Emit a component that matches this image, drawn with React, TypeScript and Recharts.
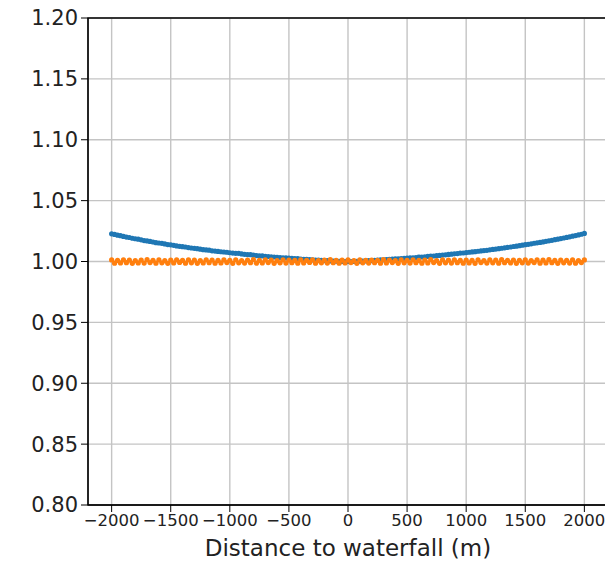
import { ScatterChart, Scatter, XAxis, YAxis, CartesianGrid, ReferenceArea } from 'recharts';

// distance along the profile (m), every 25 m
const distances = [
  -2000, -1975, -1950, -1925, -1900, -1875, -1850, -1825, -1800, -1775,
  -1750, -1725, -1700, -1675, -1650, -1625, -1600, -1575, -1550, -1525,
  -1500, -1475, -1450, -1425, -1400, -1375, -1350, -1325, -1300, -1275,
  -1250, -1225, -1200, -1175, -1150, -1125, -1100, -1075, -1050, -1025,
  -1000, -975, -950, -925, -900, -875, -850, -825, -800, -775,
  -750, -725, -700, -675, -650, -625, -600, -575, -550, -525,
  -500, -475, -450, -425, -400, -375, -350, -325, -300, -275,
  -250, -225, -200, -175, -150, -125, -100, -75, -50, -25,
  0, 25, 50, 75, 100, 125, 150, 175, 200, 225,
  250, 275, 300, 325, 350, 375, 400, 425, 450, 475,
  500, 525, 550, 575, 600, 625, 650, 675, 700, 725,
  750, 775, 800, 825, 850, 875, 900, 925, 950, 975,
  1000, 1025, 1050, 1075, 1100, 1125, 1150, 1175, 1200, 1225,
  1250, 1275, 1300, 1325, 1350, 1375, 1400, 1425, 1450, 1475,
  1500, 1525, 1550, 1575, 1600, 1625, 1650, 1675, 1700, 1725,
  1750, 1775, 1800, 1825, 1850, 1875, 1900, 1925, 1950, 1975,
  2000,
];

// blue series
const ratioA = [
  1.0227, 1.0222, 1.0216, 1.0212, 1.0206, 1.0201, 1.0197, 1.0191, 1.0187, 1.0183,
  1.0178, 1.0172, 1.0169, 1.0165, 1.016, 1.0155, 1.0152, 1.0149, 1.0144, 1.0139,
  1.0137, 1.0133, 1.0128, 1.0125, 1.0122, 1.0119, 1.0114, 1.0111, 1.0108, 1.0105,
  1.0101, 1.0097, 1.0095, 1.0093, 1.0088, 1.0086, 1.0083, 1.008, 1.0078, 1.0076,
  1.0072, 1.0069, 1.0067, 1.0066, 1.0062, 1.0059, 1.0057, 1.0056, 1.0052, 1.0049,
  1.0047, 1.0046, 1.0043, 1.0041, 1.0038, 1.0037, 1.0035, 1.0032, 1.0031, 1.0029,
  1.0027, 1.0025, 1.0024, 1.0023, 1.002, 1.0018, 1.0017, 1.0016, 1.0014, 1.0012,
  1.0011, 1.001, 1.0008, 1.0007, 1.0005, 1.0004, 1.0003, 1.0002, 1.0001, 1.0,
  1.0, 1.0, 1.0001, 1.0002, 1.0003, 1.0004, 1.0005, 1.0007, 1.0008, 1.001,
  1.0011, 1.0013, 1.0014, 1.0016, 1.0017, 1.0019, 1.0021, 1.0022, 1.0024, 1.0026,
  1.0027, 1.0029, 1.0031, 1.0033, 1.0036, 1.0037, 1.0039, 1.0042, 1.0044, 1.0045,
  1.0048, 1.005, 1.0053, 1.0055, 1.0058, 1.006, 1.0063, 1.0065, 1.0068, 1.007,
  1.0073, 1.0076, 1.0079, 1.0081, 1.0084, 1.0087, 1.009, 1.0092, 1.0096, 1.0099,
  1.0102, 1.0105, 1.0109, 1.0112, 1.0116, 1.0119, 1.0123, 1.0126, 1.013, 1.0134,
  1.0138, 1.0141, 1.0145, 1.015, 1.0153, 1.0157, 1.0161, 1.0166, 1.017, 1.0174,
  1.0179, 1.0183, 1.0188, 1.0193, 1.0198, 1.0203, 1.0208, 1.0213, 1.0218, 1.0224,
  1.0231,
];

// orange series
const ratioB = [
  1.0013, 0.9986, 1.0009, 0.9988, 1.0014, 0.999, 1.0011, 0.9985, 1.0008, 0.9988,
  1.0012, 0.9987, 1.0015, 0.9991, 1.001, 0.9986, 1.0013, 0.9989, 1.0007, 0.9985,
  1.0012, 0.9988, 1.0014, 0.9992, 1.0009, 0.9986, 1.0013, 0.9989, 1.0011, 0.9985,
  1.0008, 0.9988, 1.0014, 0.999, 1.0012, 0.9986, 1.0009, 0.9988, 1.0013, 0.9991,
  1.001, 0.9985, 1.0014, 0.9989, 1.0008, 0.9987, 1.0012, 0.999, 1.0015, 0.9986,
  1.0009, 0.9988, 1.0013, 0.9991, 1.0011, 0.9985, 1.0008, 0.9989, 1.0014, 0.9987,
  1.0012, 0.999, 1.0009, 0.9986, 1.0013, 0.9988, 1.001, 0.9992, 1.0014, 0.9986,
  1.0008, 0.9989, 1.0012, 0.9987, 1.0015, 0.999, 1.0009, 0.9986, 1.0011, 0.9988,
  1.0013, 0.9991, 1.0008, 0.9985, 1.0014, 0.9989, 1.001, 0.9987, 1.0012, 0.999,
  1.0009, 0.9986, 1.0016, 0.9988, 1.0011, 0.9991, 1.0008, 0.9985, 1.0013, 0.9989,
  1.001, 0.9987, 1.0014, 0.999, 1.0009, 0.9986, 1.0012, 0.9988, 1.0015, 0.9991,
  1.0008, 0.9985, 1.0013, 0.9989, 1.0011, 0.9987, 1.0014, 0.999, 1.0009, 0.9986,
  1.0012, 0.9988, 1.001, 0.9985, 1.0014, 0.9991, 1.0008, 0.9987, 1.0013, 0.9989,
  1.0011, 0.9986, 1.0015, 0.999, 1.0009, 0.9988, 1.0012, 0.9985, 1.001, 0.9989,
  1.0014, 0.9987, 1.0008, 0.9991, 1.0013, 0.9986, 1.0011, 0.9988, 1.0015, 0.999,
  1.0009, 0.9985, 1.0012, 0.9989, 1.001, 0.9987, 1.0014, 0.9986, 1.0008, 0.9991,
  1.0013,
];

const xTicks = [-2000, -1500, -1000, -500, 0, 500, 1000, 1500, 2000];
const yTicks = [0.8, 0.85, 0.9, 0.95, 1.0, 1.05, 1.1, 1.15, 1.2];

const seriesA = distances.map((d, i) => ({ x: d, y: ratioA[i] }));
const seriesB = distances.map((d, i) => ({ x: d, y: ratioB[i] }));

const font = 'DejaVu Sans, sans-serif';

const dot = (color: string) => (props: any) => (
  <circle cx={props.cx} cy={props.cy} r={2.6} fill={color} />
);

export default function App() {
  return (
    <div style={{ marginTop: -8, marginLeft: -8, width: 613, height: 561 }}>
      <ScatterChart
        width={613}
        height={561}
        margin={{ top: 18, right: 5, bottom: 8, left: 8 }}
      >
        <CartesianGrid stroke="#c4c4c4" strokeWidth={1.4} />
        <XAxis
          type="number"
          dataKey="x"
          domain={[-2200, 2200]}
          ticks={xTicks}
          interval={0}
          height={48}
          tickSize={7}
          tickMargin={2}
          stroke="#000"
          tickFormatter={(v: number) => String(v).replace('-', '\u2212')}
          tick={{ fill: '#222', fontSize: 16.5, fontFamily: font }}
          label={{
            value: 'Distance to waterfall (m)',
            position: 'insideBottom',
            offset: -3,
            fill: '#222',
            fontSize: 23,
            fontFamily: font,
          }}
        />
        <YAxis
          type="number"
          dataKey="y"
          domain={[0.8, 1.2]}
          ticks={yTicks}
          interval={0}
          width={80}
          tickSize={7}
          tickMargin={3}
          stroke="#000"
          tickFormatter={(v: number) => v.toFixed(2)}
          tick={{ fill: '#222', fontSize: 21, fontFamily: font }}
        />
        <ReferenceArea
          x1={-2200}
          x2={2200}
          y1={0.8}
          y2={1.2}
          fill="none"
          stroke="#000"
          strokeWidth={1.3}
          strokeOpacity={1}
        />
        <Scatter data={seriesA} fill="#1f77b4" shape={dot('#1f77b4')} isAnimationActive={false} />
        <Scatter data={seriesB} fill="#ff7f0e" shape={dot('#ff7f0e')} isAnimationActive={false} />
      </ScatterChart>
    </div>
  );
}
